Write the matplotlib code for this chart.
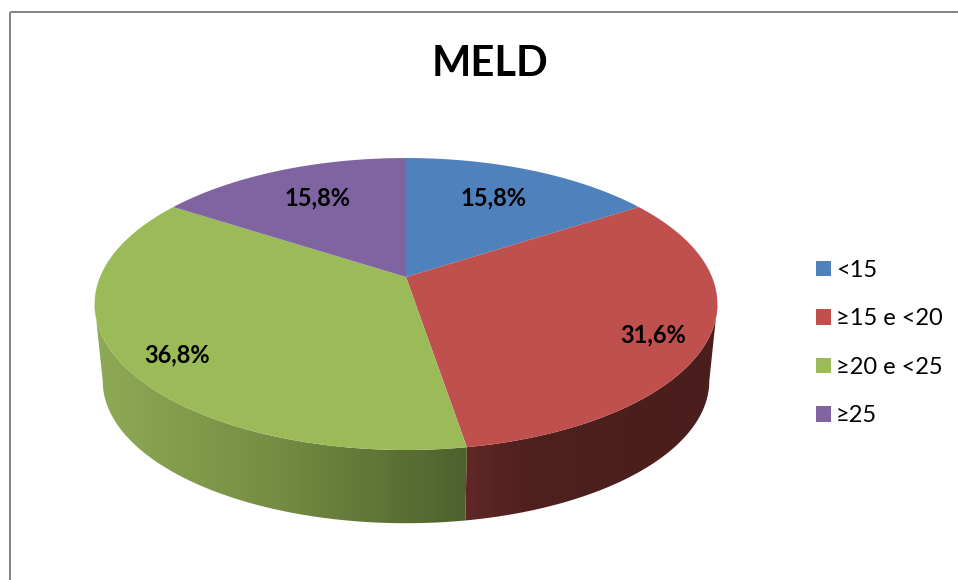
import numpy as np
import matplotlib
matplotlib.use("Agg")
import matplotlib.pyplot as plt
from matplotlib.patches import Polygon, Rectangle
from matplotlib.path import Path
from matplotlib.transforms import Transform

plt.rcParams['font.family'] = ['Lato', 'DejaVu Sans']

title = "MELD"
categories = ["<15", "≥15 e <20", "≥20 e <25", "≥25"]
values = [15.8, 31.6, 36.8, 15.8]
colors = ["#4f81bd", "#c0504d", "#9bbb59", "#8064a2"]

label_x = [493, 653, 177, 317]
label_y = [198, 335, 355, 198]

# side shading, left to right, pixel x and rgb
green_x = [95, 280, 467]
green_rgb = [(143, 170, 86), (116, 140, 67), (78, 96, 44)]
red_x = [467, 530, 720]
red_rgb = [(96, 39, 37), (78, 32, 30), (74, 30, 28)]


class Persp(Transform):
    # tilted disc, the unit circle goes to an off-centre ellipse in pixels
    input_dims = 2
    output_dims = 2

    def __init__(self, cy=277.0, scale=1.0):
        super().__init__()
        self.cy = cy
        self.scale = scale

    def transform_non_affine(self, xy):
        xy = np.asarray(xy, dtype=float)
        w = 1 + 0.185 * xy[:, 1]
        return np.column_stack([406 + self.scale * 306 * xy[:, 0] / w,
                                self.cy - self.scale * 141 * xy[:, 1] / w])

    def transform_path_non_affine(self, path):
        pts = [c(np.linspace(0, 1, 40)) for c, _ in path.iter_bezier()]
        return Path(self.transform_non_affine(np.vstack(pts)))


def circle(t1, t2):
    t = np.radians(np.linspace(t1, t2, 200))
    return np.column_stack([np.cos(t), np.sin(t)])


fig = plt.figure(figsize=(9.58, 5.80), dpi=100)
ax = fig.add_axes([0, 0, 1, 1])

wedges, _ = ax.pie(values, colors=colors, startangle=90, counterclock=False,
                   wedgeprops={'linewidth': 0})
ax.set_aspect('auto')

top = Persp()
bottom = Persp(cy=354.7, scale=0.974)
for w in wedges:
    w.set_transform(top + ax.transData)
    w.set_zorder(3)

# side wall under the red and green slices, front part of the rim only
for w, xs, rgb in [(wedges[1], red_x, red_rgb), (wedges[2], green_x, green_rgb)]:
    u = circle(np.clip(w.theta1, -169.3, -10.7), np.clip(w.theta2, -169.3, -10.7))
    wall = np.vstack([top.transform(u), bottom.transform(u)[::-1]])
    clip = Polygon(wall, closed=True, transform=ax.transData)
    px = np.arange(xs[0] - 5, xs[-1] + 1)
    rgb = np.array(rgb)
    grad = np.stack([np.interp(px, xs, rgb[:, i]) for i in range(3)], axis=-1) / 255
    im = ax.imshow(grad[np.newaxis], extent=[px[0], px[-1], 540, 250], aspect='auto',
                   interpolation='bilinear', zorder=2)
    im.set_clip_path(clip)

for v, x, y in zip(values, label_x, label_y):
    ax.text(x, y, f"{v:.1f}%".replace('.', ','), ha='center', va='center',
            fontsize=17, fontweight='bold', color='black', zorder=4)

ax.text(490, 64, title, ha='center', va='center', fontsize=30, fontweight='bold', color='black')

ax.add_patch(Rectangle((10, 12), 1000, 600, fill=False, edgecolor='#868686', linewidth=1.44, zorder=1))

ax.legend(wedges, categories, loc='center left', bbox_to_anchor=(816, 343),
          bbox_transform=ax.transData, frameon=False, fontsize=17,
          handlelength=0.64, handleheight=0.64, handletextpad=0.2, labelspacing=1.16,
          borderpad=0, borderaxespad=0)

ax.set_xlim(0, 958)
ax.set_ylim(580, 0)
ax.axis('off')

fig.savefig("out.png", dpi=100)
